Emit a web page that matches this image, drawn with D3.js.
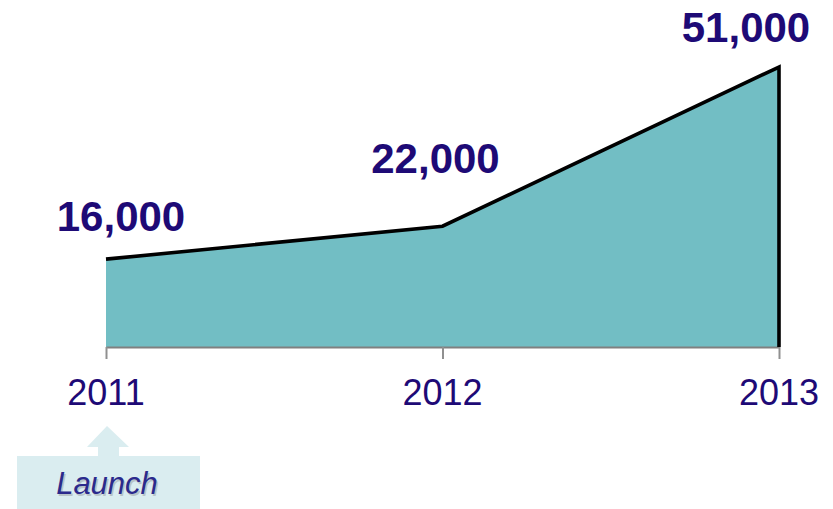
<!DOCTYPE html>
<html><head><meta charset="utf-8">
<script src="https://cdn.jsdelivr.net/npm/d3@7"></script>
<style>html,body{margin:0;padding:0;background:#fff;}svg{display:block;}</style>
</head><body>
<svg id="c" width="833" height="509"></svg>
<script>
const years = ["2011", "2012", "2013"];
const values = [16000, 22000, 51000];
const valueLabels = ["16,000", "22,000", "51,000"];
const annotation = "Launch";

// layout (positions kept separate from data)
const labelOffsets = [[15, -28], [-7, -53], [-33, -25]];
const svg = d3.select("#c");
const x = d3.scalePoint().domain(years).range([106, 779]);
const y = d3.scaleLinear().domain([0, 51000]).range([347, 67]);
const data = years.map((yr, i) => ({yr, v: values[i], lab: valueLabels[i]}));
const textColor = "#1e0a76";

svg.append("path").datum(data)
  .attr("d", d3.area().x(d => x(d.yr)).y0(y(0)).y1(d => y(d.v)))
  .attr("fill", "#72bec4");

const axis = d3.axisBottom(x).tickSize(12).tickSizeOuter(0).tickFormat("");
const ag = svg.append("g").attr("transform", `translate(0,${y(0)})`).call(axis);
ag.select(".domain").attr("stroke", "#808080").attr("stroke-width", 2);
ag.selectAll(".tick line").attr("stroke", "#909090").attr("stroke-width", 2);

const last = data[data.length - 1];
const linePts = data.map(d => [x(d.yr), y(d.v)]).concat([[x(last.yr), y(0)]]);
svg.append("path").attr("d", d3.line()(linePts))
  .attr("fill", "none").attr("stroke", "#000").attr("stroke-width", 3.6)
  .attr("stroke-linejoin", "miter");

svg.selectAll("text.yr").data(data).join("text").attr("class", "yr")
  .attr("x", d => x(d.yr)).attr("y", 405).attr("text-anchor", "middle")
  .attr("font-family", "Liberation Sans, Arial, sans-serif").attr("font-size", 36)
  .attr("fill", textColor).text(d => d.yr);

svg.selectAll("text.val").data(data).join("text").attr("class", "val")
  .attr("x", (d, i) => x(d.yr) + labelOffsets[i][0])
  .attr("y", (d, i) => y(d.v) + labelOffsets[i][1])
  .attr("text-anchor", "middle")
  .attr("font-family", "Liberation Sans, Arial, sans-serif").attr("font-weight", "bold")
  .attr("font-size", 42).attr("fill", textColor).text(d => d.lab);

// Launch callout
const lx = x(years[0]) + 1;
svg.append("rect").attr("x", 17).attr("y", 456).attr("width", 183).attr("height", 53).attr("fill", "#daedf0");
svg.append("path").attr("d", d3.line()([[lx, 426], [lx + 22, 447], [lx + 12, 447], [lx + 12, 456], [lx - 9, 456], [lx - 9, 447], [lx - 20, 447]]) + "Z")
  .attr("fill", "#daedf0");
svg.append("text").attr("x", lx).attr("y", 494).attr("text-anchor", "middle")
  .attr("font-family", "Liberation Sans, Arial, sans-serif").attr("font-style", "italic")
  .attr("font-size", 31).attr("fill", "#b8c4c8").attr("dx", 1.5).attr("dy", 1.5).text(annotation);
svg.append("text").attr("x", lx).attr("y", 494).attr("text-anchor", "middle")
  .attr("font-family", "Liberation Sans, Arial, sans-serif").attr("font-style", "italic")
  .attr("font-size", 31).attr("fill", "#2b2a8c").text(annotation);
</script>
</body></html>
